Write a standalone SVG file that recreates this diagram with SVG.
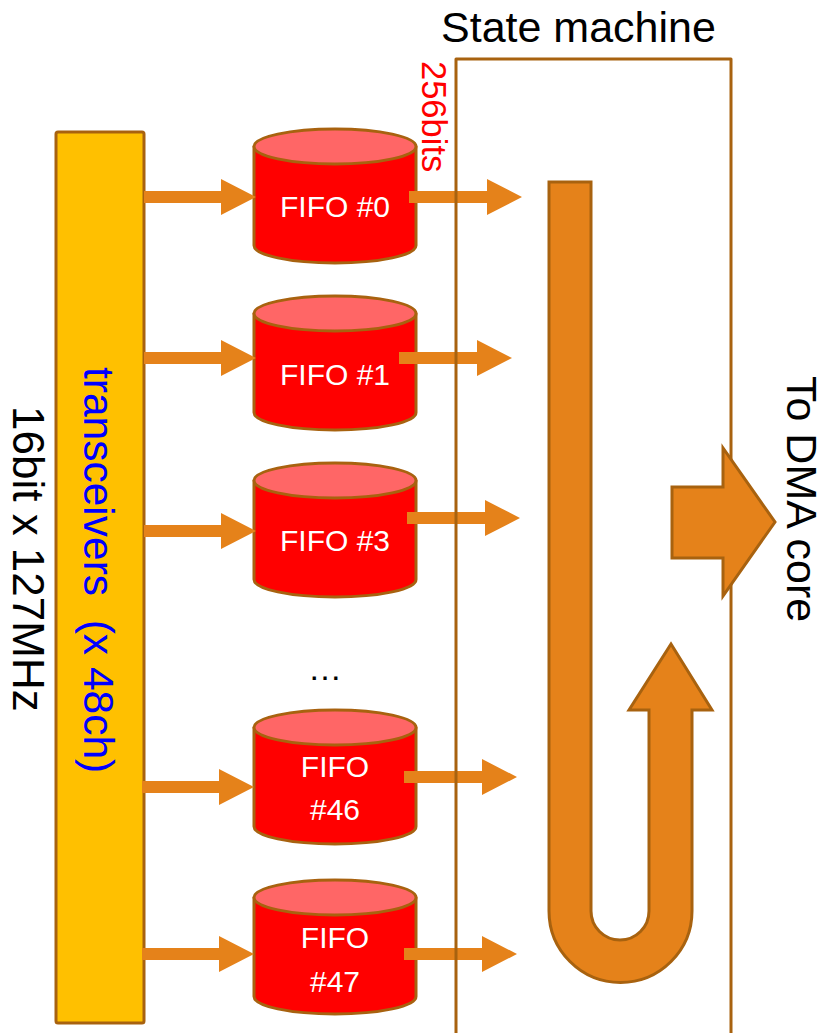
<svg xmlns="http://www.w3.org/2000/svg" xmlns:xlink="http://www.w3.org/1999/xlink" width="827" height="1033" viewBox="0 0 827 1033">
  <style>
    text { font-family: "Liberation Sans", Arial, sans-serif; }
    .edge { stroke: #A8620F; stroke-width: 3; stroke-linejoin: round; }
    .bar { fill: #FFC000; }
    .body { fill: #FF0000; }
    .lid { fill: #FF6666; }
    .flow { fill: #E5821A; }
    .fat { fill: #E5821A; stroke: #A8620F; stroke-width: 3; stroke-linejoin: miter; }
    .fifo-label { fill: #FFFFFF; font-size: 30px; text-anchor: middle; }
  </style>
  <defs>
    <!-- cylinder drawn from its top edge; 162 wide, 134 tall -->
    <g id="cyl">
      <path class="body edge" d="M -81 17.5 V 116.5 A 81 17.5 0 0 0 81 116.5 V 17.5 Z"/>
      <ellipse class="lid edge" cx="0" cy="17.5" rx="81" ry="17.5"/>
    </g>
    <!-- straight block arrow, tail at origin -->
    <path id="in-arrow" class="flow" d="M 0 -6 H 77 V -18 L 112 0 L 77 18 V 6 H 0 Z"/>
    <path id="out-arrow" class="flow" d="M 0 -6 H 78 V -18 L 113 0 L 78 18 V 6 H 0 Z"/>
  </defs>

  <rect width="827" height="1033" fill="#FFFFFF"/>

  <!-- transceiver column -->
  <g id="transceivers">
    <rect class="bar edge" x="56" y="132" width="88" height="891" rx="2"/>
    <text transform="translate(84,367) rotate(90)" font-size="42.5" fill="#0000FF" xml:space="preserve">transceivers  (x 48ch)</text>
  </g>

  <text id="rate-label" transform="translate(13,406) rotate(90)" font-size="44" fill="#000000">16bit x 127MHz</text>

  <!-- FIFOs -->
  <g id="fifo0">
    <use xlink:href="#cyl" x="335" y="129"/>
    <text class="fifo-label" x="335" y="217">FIFO #0</text>
  </g>
  <g id="fifo1">
    <use xlink:href="#cyl" x="335" y="296"/>
    <text class="fifo-label" x="335" y="385">FIFO #1</text>
  </g>
  <g id="fifo3">
    <use xlink:href="#cyl" x="335" y="463"/>
    <text class="fifo-label" x="335" y="551">FIFO #3</text>
  </g>
  <text id="ellipsis" x="325" y="680" font-size="34" fill="#000000" text-anchor="middle">…</text>
  <g id="fifo46">
    <use xlink:href="#cyl" x="335" y="710"/>
    <text class="fifo-label" x="335" y="777">FIFO</text>
    <text class="fifo-label" x="335" y="820">#46</text>
  </g>
  <g id="fifo47">
    <use xlink:href="#cyl" x="335" y="880"/>
    <text class="fifo-label" x="335" y="948">FIFO</text>
    <text class="fifo-label" x="335" y="992">#47</text>
  </g>

  <!-- links: transceivers to FIFOs, FIFOs to state machine -->
  <g id="connectors">
    <use xlink:href="#in-arrow" x="144" y="197"/>
    <use xlink:href="#in-arrow" x="144" y="358"/>
    <use xlink:href="#in-arrow" x="144" y="531"/>
    <use xlink:href="#in-arrow" x="142" y="787"/>
    <use xlink:href="#in-arrow" x="142" y="954"/>

    <use xlink:href="#out-arrow" x="409" y="197"/>
    <use xlink:href="#out-arrow" x="399" y="358"/>
    <use xlink:href="#out-arrow" x="407" y="518"/>
    <use xlink:href="#out-arrow" x="404" y="777"/>
    <use xlink:href="#out-arrow" x="404" y="954"/>

    <text transform="translate(422,61) rotate(90)" font-size="34.5" fill="#FF0000">256bits</text>
  </g>

  <!-- state machine frame with its U-turn flow -->
  <g id="state-machine">
    <path d="M 456 1040 V 59 H 731 V 1040" fill="none" class="edge"/>
    <text x="441" y="42" font-size="43" fill="#000000">State machine</text>
    <path class="fat" d="M 549 182 H 591 V 911 A 29 29 0 0 0 649 911 V 710 H 629 L 671 644 L 712 710 H 692 V 911 A 71.5 71.5 0 0 1 549 911 Z"/>
  </g>

  <!-- output to DMA -->
  <g id="dma">
    <path class="fat" d="M 672 487 H 723 V 448 L 775 522 L 723 596 V 558 H 672 Z"/>
    <text transform="translate(787,376) rotate(90)" font-size="43" fill="#000000">To DMA core</text>
  </g>
</svg>
